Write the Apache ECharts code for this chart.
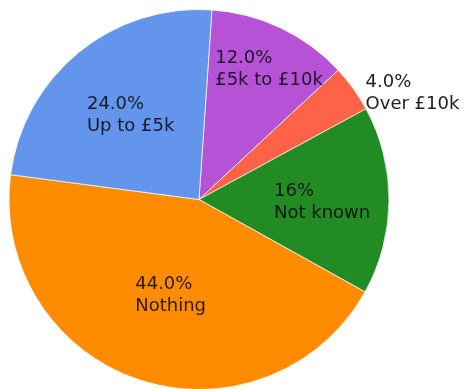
<!DOCTYPE html>
<html>
<head>
<meta charset="utf-8">
<script src="https://cdn.jsdelivr.net/npm/echarts@6/dist/echarts.min.js"></script>
<style>
  html, body { margin: 0; padding: 0; background: #ffffff; }
  #chart { width: 465px; height: 389px; }
</style>
</head>
<body>
<div id="chart"></div>
<script>
// Slices in clockwise order starting just right of 12 o'clock
const categories = ['£5k to £10k', 'Over £10k', 'Not known', 'Nothing', 'Up to £5k'];
const values = [12.0, 4.0, 16, 44.0, 24.0];
const percentText = ['12.0%', '4.0%', '16%', '44.0%', '24.0%'];
const colors = ['#B652D6', '#FF6347', '#238B23', '#FF8C00', '#6495ED'];

// Label nudges (left edge / vertical middle) relative to the default inside anchor
const labelShift = [
  [-26, -42],
  [87, -49],
  [-23, 2],
  [-33, 3],
  [-50, -8]
];

const chart = echarts.init(document.getElementById('chart'), null, { renderer: 'canvas' });

const data = categories.map((name, i) => ({
  name: name,
  value: values[i],
  itemStyle: { color: colors[i] },
  label: {
    formatter: percentText[i] + '\n' + name,
    color: i === 1 ? '#202020' : 'rgba(0,0,0,0.82)'
  }
}));

chart.setOption({
  animation: false,
  backgroundColor: '#ffffff',
  series: [{
    type: 'pie',
    center: [199, 199.5],
    radius: 190,
    startAngle: 86.1,
    clockwise: true,
    avoidLabelOverlap: false,
    itemStyle: { borderColor: 'rgba(255,255,255,0.7)', borderWidth: 1 },
    label: {
      show: true,
      position: 'inside',
      fontFamily: 'DejaVu Sans',
      fontSize: 18,
      lineHeight: 22,
      align: 'left'
    },
    labelLine: { show: false },
    labelLayout: function (params) {
      const s = labelShift[params.dataIndex];
      return { dx: s[0], dy: s[1], align: 'left', verticalAlign: 'middle' };
    },
    data: data
  }]
});
</script>
</body>
</html>
